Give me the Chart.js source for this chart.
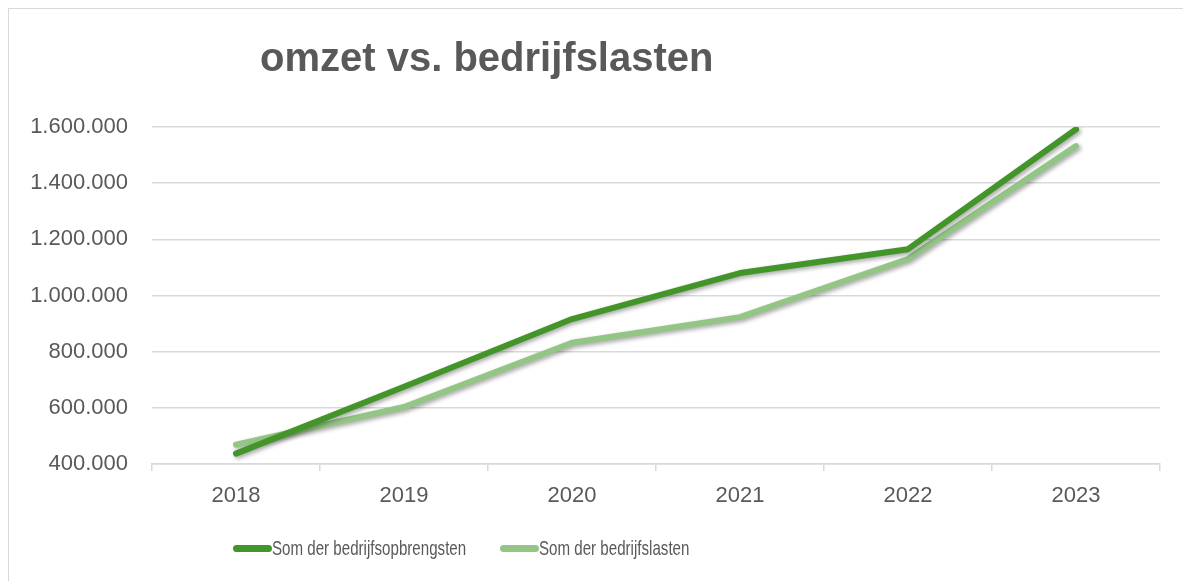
<!DOCTYPE html>
<html>
<head>
<meta charset="utf-8">
<script src="https://cdn.jsdelivr.net/npm/chart.js@4.4.1/dist/chart.umd.min.js"></script>
<style>
    html, body { margin: 0; padding: 0; background: #fff; }
    #wrap { position: relative; width: 1183px; height: 581px; overflow: hidden; }
    #frame { position: absolute; left: 8px; top: 8px; width: 1300px; height: 700px;
             border-left: 1px solid #d9d9d9; border-top: 1px solid #d9d9d9; }
    #chart { position: absolute; left: 0; top: 0; }
    #title { position: absolute; left: 260px; top: 37px; font: bold 40px "Liberation Sans", Arial, sans-serif;
             color: #595959; line-height: 1; white-space: nowrap; }
    .item { position: absolute; top: 536px; height: 24px; display: flex; align-items: center;
            font: 21px "Liberation Sans", Arial, sans-serif; color: #595959; white-space: nowrap; }
    .swatch { width: 39px; height: 7px; border-radius: 4px; flex: none; }
    .naam { display: inline-block; transform: scaleX(0.72); transform-origin: left center; }
</style>
</head>
<body>
<div id="wrap">
    <div id="frame"></div>
    <canvas id="chart" width="1183" height="581"></canvas>
    <div id="title">omzet vs. bedrijfslasten</div>
</div>
<script>
// chart data
const jaren = ['2018', '2019', '2020', '2021', '2022', '2023'];
const opbrengsten = [437000, 675000, 916000, 1080000, 1165000, 1592000];
const lasten = [469000, 603000, 832000, 923000, 1130000, 1532000];
const reeksNamen = ['Som der bedrijfsopbrengsten', 'Som der bedrijfslasten'];
const reeksKleuren = ['#43952a', '#93c585'];

function formatNL(v) {
    return String(v).replace(/\B(?=(\d{3})+(?!\d))/g, '.');
}

// legend in html so it can sit where the original puts it
const wrap = document.getElementById('wrap');
const legendX = [233, 500];
reeksNamen.forEach((naam, i) => {
    wrap.insertAdjacentHTML('beforeend',
        `<div class="item" style="left:${legendX[i]}px"><span class="swatch" style="background:${reeksKleuren[i]}"></span><span class="naam">${naam}</span></div>`);
});

// soft drop shadow under the lines, like the Excel original
const lineShadow = {
    id: 'lineShadow',
    beforeDatasetDraw(chart) {
        const ctx = chart.ctx;
        ctx.save();
        ctx.shadowColor = 'rgba(0, 0, 0, 0.35)';
        ctx.shadowBlur = 4;
        ctx.shadowOffsetX = 2;
        ctx.shadowOffsetY = 2;
    },
    afterDatasetDraw(chart) {
        chart.ctx.restore();
    }
};

const tickFont = { family: '"Liberation Sans", Arial, sans-serif', size: 22 };

new Chart(document.getElementById('chart'), {
    type: 'line',
    data: {
        labels: jaren,
        datasets: [
            {
                label: reeksNamen[0],
                data: opbrengsten,
                borderColor: reeksKleuren[0],
                backgroundColor: reeksKleuren[0],
                borderWidth: 6,
                borderCapStyle: 'round',
                borderJoinStyle: 'round',
                pointRadius: 0,
                tension: 0
            },
            {
                label: reeksNamen[1],
                data: lasten,
                borderColor: reeksKleuren[1],
                backgroundColor: reeksKleuren[1],
                borderWidth: 6,
                borderCapStyle: 'round',
                borderJoinStyle: 'round',
                pointRadius: 0,
                tension: 0
            }
        ]
    },
    options: {
        responsive: false,
        animation: false,
        layout: { padding: { left: 20, right: 23, top: 127, bottom: 17 } },
        plugins: {
            legend: { display: false },
            title: { display: false },
            tooltip: { enabled: false }
        },
        scales: {
            x: {
                offset: true,
                grid: { offset: true, drawOnChartArea: false, color: '#d9d9d9', lineWidth: 1.5, tickLength: 7 },
                border: { color: '#d9d9d9', width: 1.5 },
                ticks: { color: '#595959', font: tickFont, padding: 12 },
                afterFit(scale) { scale.height = 100; }
            },
            y: {
                min: 400000,
                max: 1600000,
                grid: { color: '#d9d9d9', lineWidth: 1.5, drawTicks: false },
                border: { display: false },
                ticks: {
                    stepSize: 200000,
                    color: '#595959',
                    font: tickFont,
                    padding: 24,
                    callback: v => formatNL(v)
                },
                afterFit(scale) { scale.width = 132; }
            }
        }
    },
    plugins: [lineShadow]
});
</script>
</body>
</html>
